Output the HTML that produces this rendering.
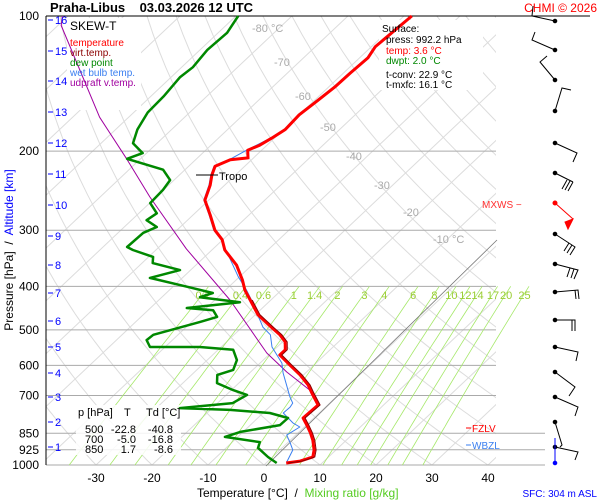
<!DOCTYPE html>
<html><head><meta charset="utf-8"><style>
body{margin:0;background:#fff;}
svg{display:block;font-family:"Liberation Sans",sans-serif;}
.pre{white-space:pre;}
</style></head><body>
<svg id="c" width="600" height="500" viewBox="0 0 600 500">
<defs><clipPath id="pa"><rect x="46" y="16" width="450" height="449"/></clipPath></defs>
<rect width="600" height="500" fill="#fff"/>
<g id="grid" clip-path="url(#pa)"></g>
<rect x="67" y="18" width="74" height="92" fill="#fff"/>
<rect x="379" y="20" width="104" height="70" fill="#fff"/>
<g id="hlines"></g>
<g id="mix"></g>
<rect x="76" y="405" width="105" height="50" fill="#fff" fill-opacity="0.85"/>
<g id="series"></g>
<g id="labels"></g>
</svg>
<script>
const NS="http://www.w3.org/2000/svg";
// ---- data ----
const pressureTicks=[100,200,300,400,500,600,700,850,925,1000];
const tempTicks=[-30,-20,-10,0,10,20,30,40];
const mixValues=[0.2,0.4,0.6,1,1.4,2,3,4,6,8,10,12,14,17,20,25];
const mixLabels=["0.2","0.4","0.6","1","1.4","2","3","4","6","8","10","12","14","17","20","25"];
const altKm=[1,2,3,4,5,6,7,8,9,10,11,12,13,14,15,16];
const altY=[447,422,397,373,347,321,293,265,236,205,174,143,112,81,51,20];
const tempP=[990,980,960,926,880,848,815,786,735,691,663,630,599,569,554,532,513,495,463,429,408,387,359,332,315,300,277,257,238,226,216,209,207,199,194,187,179,166,154,144,134,124,117,100];
const tempT=[3.6,5.7,7.2,6.1,4.0,2.2,0.1,-1.9,-1.7,-5.1,-7.3,-10.6,-14.3,-18.0,-18.0,-19.5,-21.8,-24.5,-29.5,-33.7,-36.5,-38.9,-42.7,-47.7,-50.1,-53.2,-57.0,-60.7,-62.6,-64.2,-65.3,-63.8,-61.0,-62.5,-61.3,-60.5,-59.7,-60.0,-59.4,-58.9,-58.8,-58.5,-59.3,-58.6];
const dewP=[990,960,916,889,866,844,815,786,766,754,747,728,698,681,657,630,614,584,554,546,546,527,513,480,468,452,447,434,423,414,401,383,368,355,344,332,327,304,295,285,275,261,244,232,220,208,202,192,179,164,151,137,130,119,109,100];
const dewT=[1.9,-0.8,-4.3,-5.1,-12.3,-10.5,-4.7,-4.6,-8.8,-16.5,-25.8,-17.3,-16.3,-19.7,-23.9,-25.4,-23.5,-24.7,-27.3,-33.8,-42.7,-44.6,-44.4,-38.5,-36.4,-38.4,-43.5,-35.1,-43.2,-41.7,-47.4,-55.8,-51.9,-58.1,-59.2,-64.1,-65.7,-65.5,-64.2,-67.3,-66.8,-69.9,-70.1,-70.7,-73.9,-82.4,-80.7,-84.3,-86.1,-87.5,-87.7,-88.4,-88.0,-88.7,-88.4,-89.6];
const wetP=[985,926,893,858,823,806,766,743,728,706,624,593,546,513,493,459,436,408,381,337,315,300,277,257,238,226,216,209,199,187,179,166,154,144,134,124,117];
const wetT=[3.5,2.3,0.5,-1.6,-0.8,-2.8,-6.4,-6.3,-6.6,-8.2,-14.0,-16.1,-20.9,-23.5,-26.3,-30.0,-32.6,-36.2,-40.2,-46.7,-50.3,-53.4,-57.2,-60.9,-62.8,-64.4,-65.5,-64.0,-62.7,-60.7,-59.9,-60.2,-59.6,-59.1,-59.0,-58.7,-59.5];
const updP=[681,621,563,429,330,253,209,168,105,100];
const updT=[-6.0,-13.5,-20.7,-37.3,-54.8,-71.1,-82.2,-95.2,-119.4,-121.0];
// ---- scales ----
function Y(p){return 16+449*Math.log10(p/100);}
function X(t,p){return 264+5.6*t+1.06*(465-Y(p));}
function el(tag,attrs,parent){const e=document.createElementNS(NS,tag);for(const k in attrs)e.setAttribute(k,attrs[k]);parent.appendChild(e);return e;}
const grid=document.getElementById('grid'),hl=document.getElementById('hlines'),mix=document.getElementById('mix'),ser=document.getElementById('series'),lab=document.getElementById('labels');
for(let t=-160;t<=50;t+=10){const l=el('line',{x1:X(t,1050),y1:Y(1050),x2:X(t,95),y2:Y(95),stroke:'#dcdcdc','stroke-width':1},grid);

}
for(let th=-40;th<=250;th+=10){let d='';for(let p=1050;p>=95;p-=10){const T=(th+273.15)*Math.pow(p/1000,0.286)-273.15;d+=(d?'L':'M')+X(T,p).toFixed(1)+','+Y(p).toFixed(1);}
const a=el('path',{d:d,fill:'none',stroke:'#dcdcdc','stroke-width':1},grid);

}
pressureTicks.forEach(p=>{const x2=(p>=850)?545:496;const l=el('line',{x1:46,y1:Y(p),x2:(p===100?590:x2),y2:Y(p),stroke:p===100?'#000':'#aaa','stroke-width':1},hl);


const t=el('text',{x:39,y:Y(p)+4,'text-anchor':'end','font-size':12,fill:'#000'},lab);t.textContent=p;

});
function tdFromW(w,p){const e=w*p/(622+w);const g=Math.log(e/6.112);return 243.5*g/(17.67-g);}
mixValues.forEach((w,i)=>{let d='';for(let p=1000;p>=400;p-=20){d+=(d?'L':'M')+X(tdFromW(w,p),p).toFixed(1)+','+Y(p).toFixed(1);}
const m=el('path',{d:d,fill:'none',stroke:'#a6e86a','stroke-width':0.8},mix);


const t=el('text',{x:X(tdFromW(w,415),415),y:299,'text-anchor':'middle','font-size':11,fill:'#9acd32'},mix);t.textContent=mixLabels[i];

});
const pl=el('line',{x1:266,y1:466,x2:497,y2:240,stroke:'#777','stroke-width':0.8},ser);


function line(P,T,color,w,name,dx){let d='';P.forEach((p,i)=>{d+=(i?'L':'M')+(X(T[i],p)+(dx||0)).toFixed(1)+','+Y(p).toFixed(1);});
const s=el('path',{d:d,fill:'none',stroke:color,'stroke-width':w,'stroke-linejoin':'round'},ser);

}
line(updP,updT,'#a000a0',1,'updraft-line');
line(wetP,wetT,'#3a7ff0',1,'wet-bulb-line');
line(dewP,dewT,'#008800',2.5,'dew-point-line');
line(tempP,tempT,'#ff0000',3,'temperature-line');
line(tempP.slice(0,20),tempT.slice(0,20),'#8b0000',1,'virtual-temp-line',2);
tempTicks.forEach(t=>{const x=264+5.6*t;const tx=el('text',{x:x,y:482,'text-anchor':'middle','font-size':12},lab);tx.textContent=t;

});
altKm.forEach((k,i)=>{const y=altY[i];const l=el('line',{x1:48,y1:y,x2:53,y2:y,stroke:'#0000ff','stroke-width':1},lab);


const t=el('text',{x:55,y:y+4,'font-size':11,fill:'#0000ff'},lab);t.textContent=k;

});
</script>
<svg width="600" height="500" style="position:absolute;left:0;top:0">
<line x1="46" y1="16" x2="46" y2="465" stroke="#000"/>
<text class="pre" x="50" y="12" font-size="13" font-weight="bold">Praha-Libus    03.03.2026 12 UTC</text>
<text x="597" y="12" font-size="12" fill="#ff0000" text-anchor="end">CHMI © 2026</text>
<g>
<text x="70" y="30" font-size="12">SKEW-T</text>
<text x="70" y="46" font-size="10" fill="#ff0000">temperature</text>
<text x="70" y="56" font-size="10" fill="#8b0000">virt.temp.</text>
<text x="70" y="66" font-size="10" fill="#008800">dew point</text>
<text x="70" y="76" font-size="10" fill="#3a7ff0">wet bulb temp.</text>
<text x="70" y="86" font-size="10" fill="#a000a0">udpraft v.temp.</text>
</g>
<g font-size="10">
<text x="382" y="32">Surface:</text>
<text x="386" y="43">press: 992.2 hPa</text>
<text x="386" y="54" fill="#ff0000">temp: 3.6 °C</text>
<text x="386" y="64" fill="#008800">dwpt: 2.0 °C</text>
<text x="386" y="78">t-conv: 22.9 °C</text>
<text x="386" y="88">t-mxfc: 16.1 °C</text>
</g>
<g font-size="11">
<text x="78" y="416">p [hPa]</text><text x="124" y="416">T</text><text x="146" y="416">Td [°C]</text>
<text x="85" y="433">500</text><text x="136" y="433" text-anchor="end">-22.8</text><text x="173" y="433" text-anchor="end">-40.8</text>
<text x="85" y="443">700</text><text x="136" y="443" text-anchor="end">-5.0</text><text x="173" y="443" text-anchor="end">-16.8</text>
<text x="85" y="453">850</text><text x="136" y="453" text-anchor="end">1.7</text><text x="173" y="453" text-anchor="end">-8.6</text>
</g>
<g font-size="11" fill="#aaa">
<text x="252" y="32">-80 °C</text><text x="274" y="66">-70</text><text x="295" y="100">-60</text><text x="320" y="131">-50</text><text x="346" y="160">-40</text><text x="374" y="189">-30</text><text x="403" y="216">-20</text><text x="433" y="243">-10 °C</text>
</g>
<line x1="196" y1="175" x2="218" y2="175" stroke="#000"/>
<text x="219" y="180" font-size="11">Tropo</text>
<text x="482" y="208" font-size="10" fill="#ff3030">MXWS −</text>
<line x1="466" y1="428" x2="471" y2="428" stroke="#ff0000"/>
<text x="472" y="432" font-size="10" fill="#ff0000">FZLV</text>
<line x1="466" y1="445" x2="471" y2="445" stroke="#3a7ff0"/>
<text x="472" y="449" font-size="10" fill="#3a7ff0">WBZL</text>
<text class="pre" transform="translate(13,250) rotate(-90)" font-size="12" text-anchor="middle">Pressure [hPa]  /  <tspan fill="#0000ff">Altitude [km]</tspan></text>
<text class="pre" x="197" y="497" font-size="12">Temperature [°C]  /  <tspan fill="#55cc22">Mixing ratio [g/kg]</tspan></text>
<text x="597" y="497" font-size="10" fill="#0000ff" text-anchor="end">SFC: 304 m ASL</text>
<g stroke="#000" stroke-width="1" fill="#000">
<path d="M555,21L532,16L533,6M555,50L532,40L535,32M555,80L540,62L547,56M555,111L562,88L571,90M555,143L577,153L573,162M555,173L573,182M573,182L568,191M570,181L565,190M567,180L562,189M555,234L575,247L570,255M572,245L567,253M569,243L564,251M555,264L578,270L574,279M574,269L571,278M570,268L567,277M555,292L578,290L579,299M575,290L576,299M555,320L575,320L575,331M572,320L572,331M555,347L578,352L576,361M555,372L575,387L569,396M555,397L578,407L575,416M555,422L562,445L560,447M555,447L578,452L575,460" fill="none"/>
<circle cx="555" cy="21" r="1.8"/><circle cx="555" cy="50" r="1.8"/><circle cx="555" cy="80" r="1.8"/><circle cx="555" cy="111" r="1.8"/><circle cx="555" cy="143" r="1.8"/><circle cx="555" cy="173" r="1.8"/><circle cx="555" cy="234" r="1.8"/><circle cx="555" cy="264" r="1.8"/><circle cx="555" cy="292" r="1.8"/><circle cx="555" cy="320" r="1.8"/><circle cx="555" cy="347" r="1.8"/><circle cx="555" cy="372" r="1.8"/><circle cx="555" cy="397" r="1.8"/><circle cx="555" cy="422" r="1.8"/><circle cx="555" cy="447" r="1.8"/>
<path d="M555,203L573,219" stroke="#ff0000"/><polygon points="573,219 565,222 568,229" fill="#ff0000" stroke="#ff0000"/><circle cx="555" cy="203" r="2" fill="#ff0000" stroke="#ff0000"/>
<path d="M555,438L555,463" stroke="#0000ff"/><circle cx="555" cy="463" r="1.8" fill="#0000ff" stroke="#0000ff"/>
</g>
</svg>
</body></html>
